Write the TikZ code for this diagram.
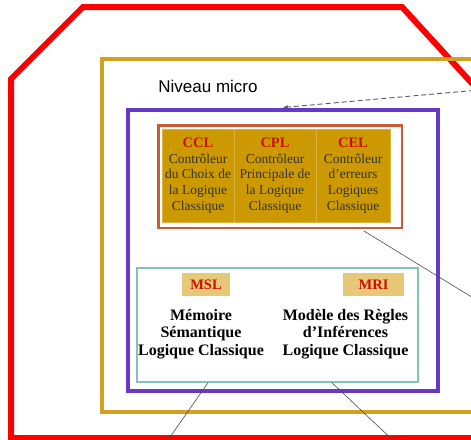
\documentclass[tikz,border=0pt]{standalone}
\usepackage{fontspec}
\setmainfont{Liberation Serif}
\newfontfamily\arialfont{Liberation Sans}
\usetikzlibrary{arrows.meta}

\definecolor{rouge}{RGB}{255,0,0}
\definecolor{ocre}{RGB}{212,160,32}
\definecolor{mauve}{RGB}{104,56,200}
\definecolor{brique}{RGB}{200,92,54}
\definecolor{corps}{RGB}{204,153,0}
\definecolor{canard}{RGB}{134,192,186}
\definecolor{clair}{RGB}{230,200,120}
\definecolor{rougefonce}{RGB}{204,17,0}

\begin{document}
\begin{tikzpicture}[x=1pt, y=-1pt,
    cadre/.style={draw, rectangle, inner sep=0pt},
    colonne/.style={rectangle, fill=corps, draw=corps!75!white, line width=0.6pt,
        inner sep=0pt, minimum height=93pt, align=center, text=black!80,
        font=\fontsize{13.5}{15.8}\selectfont},
    etiquette/.style={rectangle, fill=clair, inner sep=0pt, minimum height=23pt,
        text=rougefonce, font=\fontsize{14.5}{16}\selectfont\bfseries},
    module/.style={align=center, font=\fontsize{16}{17.5}\selectfont\bfseries},
    lien/.style={draw=black!70, line width=0.6pt},
    fleche/.style={draw=black!65, line width=0.9pt, dash pattern=on 5pt off 3pt,
        -{Latex[length=5pt,width=4pt]}}]
    \useasboundingbox (0,0) rectangle (471,439);
    \clip (0,0) rectangle (471,439);

    % Octogone rouge
    \draw[rouge, line width=6pt] (11,438) -- (11,79) -- (83,7) -- (402,7)
        -- (545,163) -- (545,438) -- cycle;

    % Niveau micro
    \draw[ocre, line width=3.5pt] (102,59) rectangle (530,412);
    \node[font=\arialfont\fontsize{17}{20}\selectfont] (niveau) at (208,86) {Niveau micro};

    % Cadre violet
    \node[cadre, draw=mauve, line width=4pt, minimum width=309.5pt, minimum height=281.5pt]
        (micro) at (282.75,250.25) {};

    % Controleurs
    \node[cadre, draw=brique, line width=2.5pt, minimum width=243.5pt, minimum height=102.5pt]
        (ctrl) at (280.25,176.75) {};
    \node[colonne, minimum width=72pt] (ccl) at (198,175.5)
        {{\color{rougefonce}\bfseries\fontsize{14.5}{15.8}\selectfont CCL}\\Contrôleur\\du Choix de\\la Logique\\Classique};
    \node[colonne, minimum width=82pt] (cpl) at (275,175.5)
        {{\color{rougefonce}\bfseries\fontsize{14.5}{15.8}\selectfont CPL}\\Contrôleur\\Principale de\\la Logique\\Classique};
    \node[colonne, minimum width=74pt] (cel) at (353,175.5)
        {{\color{rougefonce}\bfseries\fontsize{14.5}{15.8}\selectfont CEL}\\Contrôleur\\d’erreurs\\Logiques\\Classique};

    % Memoire et regles
    \node[cadre, draw=canard, line width=1.5pt, minimum width=281pt, minimum height=114pt]
        (memoire) at (277.5,325) {};
    \node[etiquette, minimum width=48pt] (msl) at (206,284.5) {MSL};
    \node[etiquette, minimum width=61pt] (mri) at (373.5,284.5) {MRI};
    \node[module] (msltxt) at (201,334) {Mémoire\\Sémantique\\Logique Classique};
    \node[module] (mritxt) at (345.5,334) {Modèle des Règles\\d’Inférences\\Logique Classique};

    % Liaisons
    \coordinate (d0) at (490,89);
    \coordinate (e1) at (545,342);
    \coordinate (b1) at (164.5,445);
    \coordinate (b2) at (398,445);
    \draw[fleche] (d0) -- (micro.north);
    \draw[lien, shorten <=3pt] (ctrl.-33) -- (e1);
    \draw[lien] ([xshift=-69.5pt]memoire.south) -- (b1);
    \draw[lien] ([xshift=54.5pt]memoire.south) -- (b2);
\end{tikzpicture}
\end{document}
